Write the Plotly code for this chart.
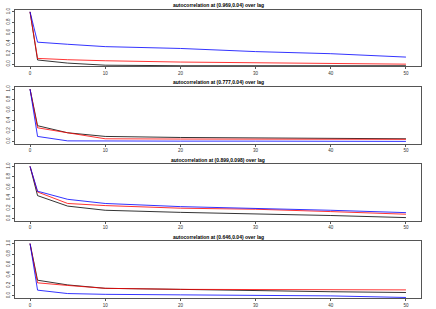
import plotly.graph_objects as go
from plotly.subplots import make_subplots

lags = [0, 1, 5, 10, 20, 30, 40, 50]

titles = [
    "autocorrelation at (0.969,0.04) over lag",
    "autocorrelation at (0.777,0.04) over lag",
    "autocorrelation at (0.899,0.098) over lag",
    "autocorrelation at (0.646,0.04) over lag",
]

p1_black = [1.0, 0.08, 0.02, -0.02, -0.03, -0.03, -0.03, -0.03]
p1_red = [1.0, 0.11, 0.085, 0.065, 0.04, 0.03, 0.015, 0.0]
p1_blue = [1.0, 0.42, 0.38, 0.335, 0.30, 0.24, 0.20, 0.135]

p2_black = [1.0, 0.30, 0.165, 0.095, 0.075, 0.065, 0.055, 0.05]
p2_red = [1.0, 0.26, 0.165, 0.05, 0.045, 0.045, 0.04, 0.04]
p2_blue = [1.0, 0.095, 0.01, 0.005, 0.005, 0.005, 0.003, 0.0]

p3_black = [1.0, 0.44, 0.24, 0.16, 0.12, 0.095, 0.06, 0.02]
p3_red = [1.0, 0.51, 0.29, 0.25, 0.20, 0.18, 0.135, 0.085]
p3_blue = [1.0, 0.525, 0.37, 0.29, 0.23, 0.20, 0.16, 0.115]

p4_black = [1.0, 0.30, 0.21, 0.145, 0.125, 0.10, 0.08, 0.065]
p4_red = [1.0, 0.25, 0.20, 0.145, 0.125, 0.125, 0.12, 0.115]
p4_blue = [1.0, 0.11, 0.045, 0.03, 0.02, 0.015, 0.0, -0.03]

panels = [
    (p1_black, p1_red, p1_blue),
    (p2_black, p2_red, p2_blue),
    (p3_black, p3_red, p3_blue),
    (p4_black, p4_red, p4_blue),
]
colors = ["black", "red", "blue"]

xticks = [0, 10, 20, 30, 40, 50]
yticks = [0.0, 0.2, 0.4, 0.6, 0.8, 1.0]

W, H = 436, 309
fig = make_subplots(rows=4, cols=1)

for i, series in enumerate(panels):
    for s, c in zip(series, colors):
        fig.add_trace(go.Scatter(x=lags, y=s, mode="lines",
                                 line=dict(color=c, width=0.8),
                                 showlegend=False, hoverinfo="skip"),
                      row=i + 1, col=1)
    off = i * H / 4.0
    top = 1 - (off + 9.6) / H
    bot = 1 - (off + 66.4) / H
    sfx = "" if i == 0 else str(i + 1)
    fig.layout["yaxis" + sfx].update(
        domain=[bot, top], range=[-0.043, 1.043], tickvals=yticks,
        ticktext=["%.1f" % v for v in yticks], tickangle=-90,
        showgrid=False, zeroline=False, showline=True, mirror=True,
        linecolor="#555555", linewidth=1, ticks="outside", ticklen=2,
        tickcolor="#555555", automargin=False,
        tickfont=dict(size=4.5, color="#333333", family="Liberation Sans"))
    fig.layout["xaxis" + sfx].update(
        domain=[15 / W, 421 / W], range=[-2, 52], tickvals=xticks,
        showgrid=False, zeroline=False, showline=True, mirror=True,
        linecolor="#555555", linewidth=1, ticks="outside", ticklen=2,
        tickcolor="#555555", automargin=False,
        tickfont=dict(size=4.5, color="#333333", family="Liberation Sans"))
    fig.add_annotation(text="<b>" + titles[i] + "</b>", xref="paper",
                       yref="paper", x=218 / W, y=1 - (off + 5) / H,
                       xanchor="center", yanchor="middle", showarrow=False,
                       font=dict(size=5, color="black",
                                 family="Liberation Sans"))

fig.update_layout(width=W, height=H, margin=dict(l=0, r=0, t=0, b=0),
                  plot_bgcolor="white", paper_bgcolor="white")
fig.write_html("out.html", config={"displayModeBar": False},
               post_script="document.body.style.margin='0';"
                           "document.body.style.padding='0';")
